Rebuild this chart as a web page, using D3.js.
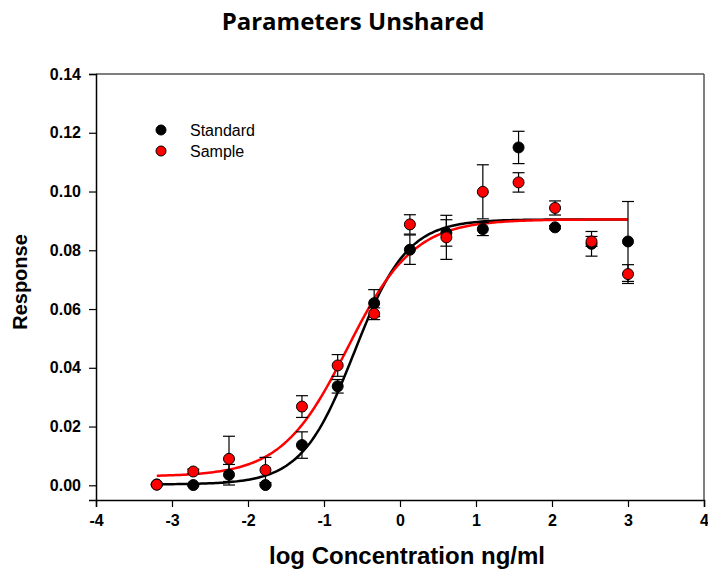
<!DOCTYPE html>
<html>
<head>
<meta charset="utf-8">
<script src="https://cdn.jsdelivr.net/npm/d3@7"></script>
<style>
  body { margin: 0; background: #fff; }
  text { font-family: "Liberation Sans", Arial, sans-serif; }
</style>
</head>
<body>
<div id="chart-area"></div>
<script>
// log concentration (3-fold dilutions)
var logConc = [-3.2, -2.72, -2.25, -1.77, -1.29, -0.82, -0.34, 0.13, 0.61, 1.09, 1.56, 2.04, 2.52, 3.0];

var standardMean = [0.0003, 0.0001, 0.0036, 0.0001, 0.0137, 0.0337, 0.0620, 0.0802, 0.0859, 0.0872, 0.1150, 0.0878, 0.0822, 0.0830];
var standardErr  = [0.0002, 0.0003, 0.0035, 0.0003, 0.0045, 0.0023, 0.0046, 0.0050, 0.0045, 0.0022, 0.0055, 0.0005, 0.0042, 0.0136];
var sampleMean   = [0.0002, 0.0047, 0.0090, 0.0052, 0.0268, 0.0408, 0.0584, 0.0888, 0.0844, 0.0999, 0.1031, 0.0944, 0.0830, 0.0719];
var sampleErr    = [0.0002, 0.0008, 0.0077, 0.0043, 0.0037, 0.0037, 0.0020, 0.0033, 0.0075, 0.0092, 0.0033, 0.0024, 0.0017, 0.0032];

// 4PL fit: bottom, top, logEC50, hill slope
var standardFit = [0.0003, 0.0905, -0.60, 1.25];
var sampleFit   = [0.0030, 0.0905, -0.69, 1.00];

var xTicks = [-4, -3, -2, -1, 0, 1, 2, 3, 4];
var yTicks = [0, 0.02, 0.04, 0.06, 0.08, 0.10, 0.12, 0.14];

var margin = { top: 74, left: 96, bottom: 75, right: 4 };
var width = 708 - margin.left - margin.right;
var height = 575 - margin.top - margin.bottom;

var svg = d3.select('#chart-area').append('svg')
    .attr('width', 708)
    .attr('height', 575);

var g = svg.append('g').attr('transform', `translate(${margin.left}, ${margin.top})`);

var x = d3.scaleLinear().domain([-4, 4]).range([0, width]);
var y = d3.scaleLinear().domain([-0.005, 0.14]).range([height, 0]);

svg.append('text')
    .attr('x', 353)
    .attr('y', 30)
    .attr('text-anchor', 'middle')
    .style('font-family', '"Open Sans", sans-serif')
    .style('font-weight', 'bold')
    .style('font-size', '24px')
    .text('Parameters Unshared');

// frame top/right
g.append('line').attr('x1', 0).attr('x2', width).attr('y1', 0).attr('y2', 0)
    .attr('stroke', '#555').attr('stroke-width', 1.5);
g.append('line').attr('x1', width).attr('x2', width).attr('y1', 0).attr('y2', height)
    .attr('stroke', '#555').attr('stroke-width', 1.5);

var xAxisCall = d3.axisBottom(x).tickValues(xTicks).tickFormat(d => String(d)).tickSizeOuter(0).tickSize(7).tickPadding(8);
var xAxisGroup = g.append('g').attr('class', 'x-axis').attr('transform', `translate(0, ${height})`).call(xAxisCall);

var yAxisCall = d3.axisLeft(y).tickValues(yTicks).tickFormat(d => d.toFixed(2)).tickSizeOuter(0).tickSize(7).tickPadding(8);
var yAxisGroup = g.append('g').attr('class', 'y-axis').call(yAxisCall);

[xAxisGroup, yAxisGroup].forEach(a => {
    a.select('.domain').attr('stroke', '#000').attr('stroke-width', 1.5);
    a.selectAll('.tick line').attr('stroke', '#000').attr('stroke-width', 1.2);
    a.selectAll('.tick text')
        .attr('fill', '#000')
        .style('font-family', '"Liberation Sans", Arial, sans-serif')
        .style('font-weight', 'bold')
        .style('font-size', '16px');
});

svg.append('text')
    .attr('x', 407)
    .attr('y', 564)
    .attr('text-anchor', 'middle')
    .style('font-weight', 'bold')
    .style('font-size', '24px')
    .text('log Concentration ng/ml');

svg.append('text')
    .attr('transform', 'translate(27, 282) rotate(-90)')
    .attr('text-anchor', 'middle')
    .style('font-weight', 'bold')
    .style('font-size', '20px')
    .text('Response');

function fourPL(p, lx) {
    return p[0] + (p[1] - p[0]) / (1 + Math.pow(10, (p[2] - lx) * p[3]));
}

var line = d3.line().x(d => x(d[0])).y(d => y(d[1]));
var curveX = d3.range(0, 201).map(i => -3.2 + i * 6.2 / 200);

g.append('path')
    .datum(curveX.map(lx => [lx, fourPL(standardFit, lx)]))
    .attr('d', line).attr('fill', 'none').attr('stroke', '#000').attr('stroke-width', 2.5);
g.append('path')
    .datum(curveX.map(lx => [lx, fourPL(sampleFit, lx)]))
    .attr('d', line).attr('fill', 'none').attr('stroke', '#ff0000').attr('stroke-width', 2.5);

var series = [
    { name: 'Standard', mean: standardMean, err: standardErr, fill: '#000' },
    { name: 'Sample', mean: sampleMean, err: sampleErr, fill: '#ff0000' }
];

series.forEach(s => {
    var data = logConc.map((lx, i) => ({ x: lx, m: s.mean[i], e: s.err[i] }));
    var eg = g.append('g');
    eg.selectAll('line.v').data(data).enter().append('line')
        .attr('x1', d => x(d.x)).attr('x2', d => x(d.x))
        .attr('y1', d => y(d.m - d.e)).attr('y2', d => y(d.m + d.e))
        .attr('stroke', '#000').attr('stroke-width', 1.2);
    [-1, 1].forEach(sg => {
        eg.selectAll('line.c' + sg).data(data).enter().append('line')
            .attr('x1', d => x(d.x) - 6).attr('x2', d => x(d.x) + 6)
            .attr('y1', d => y(d.m + sg * d.e)).attr('y2', d => y(d.m + sg * d.e))
            .attr('stroke', '#000').attr('stroke-width', 1.2);
    });
});

series.forEach(s => {
    g.append('g').selectAll('circle').data(logConc.map((lx, i) => [lx, s.mean[i]])).enter()
        .append('circle')
        .attr('cx', d => x(d[0]))
        .attr('cy', d => y(d[1]))
        .attr('r', 5.5)
        .attr('fill', s.fill)
        .attr('stroke', '#000')
        .attr('stroke-width', 1);
});

// legend
var legend = svg.append('g').attr('transform', 'translate(161, 130)');
series.forEach((s, i) => {
    legend.append('circle').attr('cx', 0).attr('cy', i * 21).attr('r', 5)
        .attr('fill', s.fill).attr('stroke', '#000').attr('stroke-width', 1);
    legend.append('text').attr('x', 29).attr('y', i * 21 + 5.5)
        .style('font-size', '16px')
        .text(s.name);
});
</script>
</body>
</html>
